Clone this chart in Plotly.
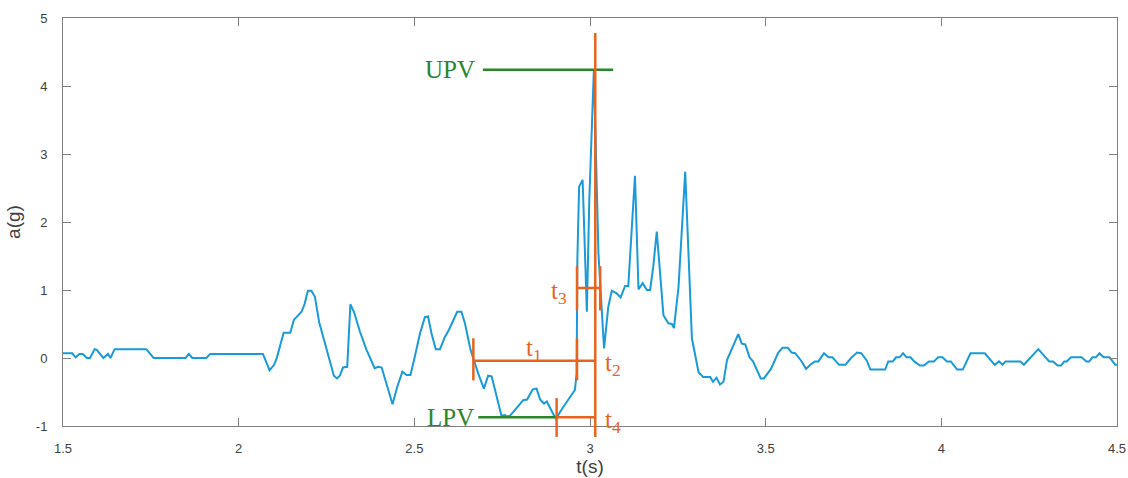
import plotly.graph_objects as go

# ---------------- data ----------------
t_s = [1.500, 1.526, 1.536, 1.547, 1.556, 1.568, 1.577, 1.590, 1.596, 1.615,
       1.628, 1.635, 1.647, 1.737, 1.758, 1.849, 1.858, 1.868, 1.908, 1.919,
       2.069, 2.088, 2.101, 2.109, 2.128, 2.147, 2.157, 2.166, 2.179, 2.188,
       2.197, 2.207, 2.217, 2.229, 2.245, 2.261, 2.271, 2.280, 2.288, 2.297,
       2.309, 2.318, 2.328, 2.345, 2.364, 2.387, 2.397, 2.407, 2.421, 2.438,
       2.451, 2.466, 2.478, 2.489, 2.501, 2.516, 2.530, 2.539, 2.549, 2.561,
       2.573, 2.587, 2.599, 2.611, 2.622, 2.634, 2.644, 2.660, 2.668, 2.682,
       2.698, 2.710, 2.720, 2.734, 2.748, 2.758, 2.764, 2.772, 2.791, 2.810,
       2.821, 2.837, 2.848, 2.858, 2.869, 2.877, 2.895, 2.903, 2.924, 2.943,
       2.957, 2.962, 2.964, 2.969, 2.979, 2.991, 2.998, 3.011, 3.024, 3.040,
       3.052, 3.062, 3.076, 3.087, 3.100, 3.109, 3.128, 3.138, 3.150, 3.162,
       3.171, 3.180, 3.190, 3.209, 3.223, 3.233, 3.239, 3.252, 3.271, 3.290,
       3.309, 3.322, 3.342, 3.350, 3.360, 3.370, 3.380, 3.390, 3.406, 3.422,
       3.432, 3.442, 3.454, 3.464, 3.486, 3.495, 3.515, 3.536, 3.548, 3.563,
       3.574, 3.584, 3.601, 3.615, 3.627, 3.640, 3.650, 3.666, 3.679, 3.690,
       3.709, 3.727, 3.743, 3.760, 3.772, 3.788, 3.798, 3.840, 3.849, 3.862,
       3.871, 3.881, 3.891, 3.901, 3.912, 3.923, 3.939, 3.950, 3.965, 3.979,
       3.991, 4.003, 4.016, 4.027, 4.045, 4.061, 4.083, 4.124, 4.152, 4.164,
       4.174, 4.183, 4.225, 4.235, 4.276, 4.307, 4.318, 4.331, 4.341, 4.350,
       4.357, 4.369, 4.399, 4.413, 4.421, 4.430, 4.440, 4.450, 4.462, 4.479,
       4.495, 4.500]
a_g = [0.07, 0.07, 0.01, 0.06, 0.06, 0.00, 0.00, 0.13, 0.12, 0.00,
       0.06, 0.00, 0.13, 0.13, 0.00, 0.00, 0.06, 0.00, 0.00, 0.06,
       0.06, -0.18, -0.10, 0.01, 0.37, 0.37, 0.56, 0.61, 0.68, 0.80,
       0.99, 0.99, 0.90, 0.53, 0.24, -0.08, -0.26, -0.30, -0.26, -0.14,
       -0.13, 0.79, 0.68, 0.39, 0.12, -0.15, -0.13, -0.14, -0.40, -0.68,
       -0.43, -0.20, -0.25, -0.25, 0.01, 0.36, 0.60, 0.61, 0.36, 0.13,
       0.13, 0.31, 0.42, 0.56, 0.68, 0.68, 0.51, 0.12, -0.02, -0.23,
       -0.45, -0.26, -0.27, -0.57, -0.85, -0.84, -0.86, -0.85, -0.74, -0.62,
       -0.61, -0.46, -0.45, -0.61, -0.67, -0.64, -0.82, -0.89, -0.72, -0.57,
       -0.47, -0.23, 1.44, 2.52, 2.62, 0.68, 2.32, 4.24, 1.54, 0.14,
       0.75, 0.99, 0.95, 0.89, 1.06, 1.06, 2.68, 1.01, 1.10, 1.00,
       1.00, 1.34, 1.86, 0.63, 0.51, 0.50, 0.44, 1.05, 2.74, 0.29,
       -0.21, -0.28, -0.28, -0.35, -0.29, -0.39, -0.35, -0.03, 0.15, 0.35,
       0.21, 0.20, 0.01, -0.05, -0.30, -0.30, -0.16, 0.08, 0.15, 0.15,
       0.08, 0.07, -0.04, -0.16, -0.10, -0.05, -0.05, 0.07, 0.01, 0.01,
       -0.10, -0.10, 0.00, 0.08, 0.07, -0.04, -0.17, -0.17, -0.05, -0.05,
       0.01, 0.01, 0.07, 0.01, 0.01, -0.05, -0.11, -0.11, -0.05, -0.05,
       0.01, 0.01, -0.05, -0.05, -0.17, -0.17, 0.07, 0.07, -0.10, -0.05,
       -0.10, -0.05, -0.05, -0.10, 0.13, -0.05, -0.05, -0.11, -0.11, -0.05,
       -0.05, 0.01, 0.01, -0.05, -0.05, 0.01, 0.01, 0.07, 0.01, 0.01,
       -0.10, -0.10]

x_ticks = [1.5, 2, 2.5, 3, 3.5, 4, 4.5]
y_ticks = [-1, 0, 1, 2, 3, 4, 5]
X_RANGE = [1.5, 4.5]
Y_RANGE = [-1, 5]

# annotation values (time in s, acceleration in g)
t_peak = 3.015
t_rise = 2.963
t3_right = 3.029
t1_left = 2.668
t_lpv = 2.905
upv_val = 4.24
lpv_val = -0.87
upv_line = [2.695, 3.066]
lpv_line = [2.682, 2.905]
t1_level = -0.04
t3_level = 1.03

ORANGE = "#E8641E"
GREEN = "#2B852B"
BLUE = "#1A9AD8"
AXC = "#808080"
TXT = "#404040"


def yp(a):
    return (a - Y_RANGE[0]) / (Y_RANGE[1] - Y_RANGE[0])


fig = go.Figure()
fig.add_trace(go.Scatter(x=t_s, y=a_g, mode="lines",
                         line=dict(color=BLUE, width=2), showlegend=False,
                         hoverinfo="skip"))

shapes = []


def hline(x0, x1, y, color):
    shapes.append(dict(type="line", xref="x", yref="y", x0=x0, x1=x1, y0=y, y1=y,
                       line=dict(color=color, width=2.5)))


def vline(x, y0, y1, color):
    shapes.append(dict(type="line", xref="x", yref="paper", x0=x, x1=x,
                       y0=yp(y0), y1=yp(y1), line=dict(color=color, width=2.5)))


# green level lines
hline(upv_line[0], upv_line[1], upv_val, GREEN)
hline(lpv_line[0], lpv_line[1], lpv_val, GREEN)
# orange timing marks
vline(t_peak, 4.78, -1.16, ORANGE)
vline(t1_left, 0.29, -0.33, ORANGE)
vline(t_rise, 0.29, -0.33, ORANGE)
hline(t1_left, t_peak, t1_level, ORANGE)
vline(t_rise, 1.35, 0.70, ORANGE)
vline(t3_right, 1.35, 0.70, ORANGE)
hline(t_rise, t3_right, t3_level, ORANGE)
vline(t_lpv, -0.59, -1.16, ORANGE)
hline(t_lpv, t_peak, lpv_val, ORANGE)

fig.update_layout(shapes=shapes)

SERIF = "Liberation Serif, Times New Roman, serif"
ann = [
    dict(x=2.678, y=upv_val, text="UPV", color=GREEN, xanchor="right"),
    dict(x=2.676, y=lpv_val, text="LPV", color=GREEN, xanchor="right"),
    dict(x=2.842, y=0.12, text="t<sub>1</sub>", color=ORANGE, xanchor="center"),
    dict(x=3.037, y=-0.10, text="t<sub>2</sub>", color=ORANGE, xanchor="left"),
    dict(x=2.940, y=0.97, text="t<sub>3</sub>", color=ORANGE, xanchor="right"),
    dict(x=3.037, y=-0.93, text="t<sub>4</sub>", color=ORANGE, xanchor="left"),
]
for a in ann:
    fig.add_annotation(x=a["x"], y=a["y"], xref="x", yref="y", text=a["text"],
                       showarrow=False, xanchor=a["xanchor"], yanchor="middle",
                       font=dict(family=SERIF, size=25, color=a["color"]))

axis_common = dict(showline=True, linecolor=AXC, linewidth=1, mirror="ticks",
                   ticks="inside", ticklen=8, tickcolor=AXC, tickwidth=1,
                   showgrid=False, zeroline=False, automargin=False,
                   tickfont=dict(family="Liberation Sans, Arial, sans-serif",
                                 size=13, color=TXT))

fig.update_xaxes(range=X_RANGE, tickvals=x_ticks,
                 ticktext=[f"{v:g}" for v in x_ticks],
                 ticklabelstandoff=10,
                 title=dict(text="t(s)", standoff=4,
                            font=dict(family="Liberation Sans, Arial, sans-serif",
                                      size=19, color=TXT)),
                 **axis_common)
fig.update_yaxes(range=Y_RANGE, tickvals=y_ticks,
                 ticktext=[f"{v:g}" for v in y_ticks],
                 ticklabelstandoff=12,
                 title=dict(text="a(g)", standoff=10,
                            font=dict(family="Liberation Sans, Arial, sans-serif",
                                      size=19, color=TXT)),
                 **axis_common)

fig.update_layout(width=1128, height=478,
                  margin=dict(l=63, r=11, t=18, b=52),
                  paper_bgcolor="white", plot_bgcolor="white")

fig.write_html("out.html", config={"displayModeBar": False},
               post_script="document.body.style.margin='0';document.body.style.overflow='hidden';")
